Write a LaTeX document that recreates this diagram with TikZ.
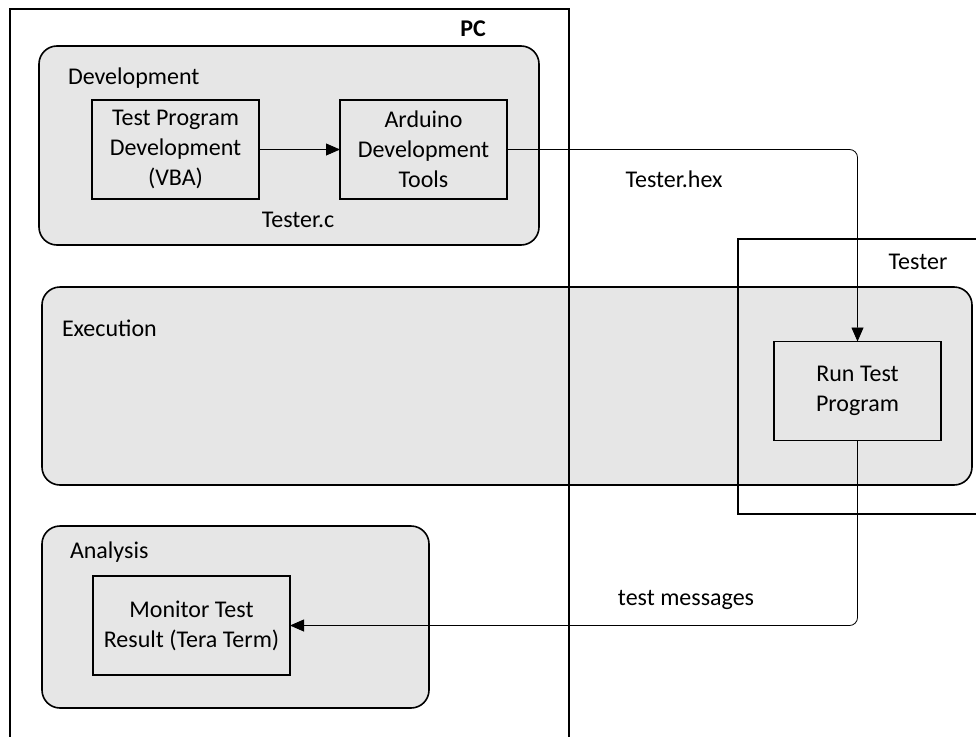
\documentclass[tikz,border=0pt]{standalone}
\usepackage{fontspec}
\setmainfont{Carlito}
\usetikzlibrary{arrows.meta}
\definecolor{panelgray}{RGB}{230,230,230}
\tikzset{
  panel/.style={draw=black, line width=1.6pt, fill=panelgray, rounded corners=18pt,
    inner sep=0pt, outer sep=0pt},
  frame/.style={draw=black, line width=1.6pt, inner sep=0pt, outer sep=0pt},
  task/.style={draw=black, line width=1.6pt, inner sep=0pt, outer sep=0pt,
    minimum width=167pt, minimum height=99pt, align=center},
  lbl/.style={inner sep=0pt, outer sep=0pt},
  flow/.style={draw=black, line width=0.8pt, rounded corners=8pt,
    -{Triangle[length=14pt,width=12pt]}},
}
\begin{document}
\begin{tikzpicture}[x=1pt, y=-1pt, font=\fontsize{24}{30}\selectfont]
\clip (0,0) rectangle (976,736);
\fill[white] (0,0) rectangle (976,736);

% grey stage panels
\node[panel, minimum width=500pt, minimum height=199pt] (dev) at (289,145.5) {};
\node[panel, minimum width=930pt, minimum height=198pt] (exe) at (507,386) {};
\node[panel, minimum width=387pt, minimum height=182pt] (ana) at (235.5,617) {};

% system boundaries
\node[frame, minimum width=559pt, minimum height=751pt] (pc) at (289.5,384.5) {};
\node[frame, minimum width=262pt, minimum height=275pt] (tester) at (869,376.5) {};

% boundary and stage titles
\node[lbl, font=\fontsize{24}{30}\selectfont\bfseries] (pclbl) at (473,29) {PC};
\node[lbl] (testerlbl) at (918,262) {Tester};
\node[lbl, anchor=west] (devlbl) at (68,78) {Development};
\node[lbl, anchor=west] (exelbl) at (62,328) {Execution};
\node[lbl, anchor=west] (analbl) at (70,552) {Analysis};

% tasks
\node[task] (tpd) at (175.5,149.5) {Test Program\\Development\\(VBA)};
\node[task] (ard) at (423.5,149.5) {Arduino\\Development\\Tools};
\node[task] (run) at (857.5,391) {Run Test\\Program};
\node[task, minimum width=197pt] (mon) at (191.5,625.5) {Monitor Test\\Result (Tera Term)};

% data passed between tasks
\draw[flow] (tpd.east) -- (ard.west);
\draw[flow] (ard.east) -| (run.north);
\draw[flow] (run.south) |- (mon.east);

% data labels
\node[lbl] (cfile) at (298,220) {Tester.c};
\node[lbl] (hexfile) at (674,179) {Tester.hex};
\node[lbl] (msgs) at (686,600) {test messages};
\end{tikzpicture}
\end{document}
